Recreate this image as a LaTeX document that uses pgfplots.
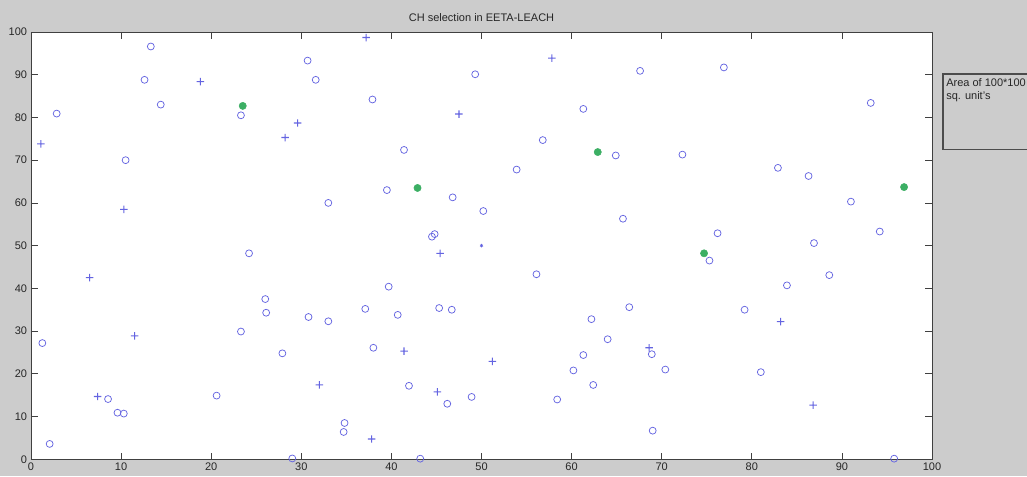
\documentclass[border=0pt]{standalone}
\usepackage{pgfplots}
\pgfplotsset{compat=1.18}
\usepackage{fontspec}
\setmainfont{Liberation Sans}
\definecolor{figbg}{RGB}{204,204,204}
\definecolor{nodeblue}{RGB}{100,100,225}
\definecolor{chgreen}{RGB}{60,175,100}
\pgfdeclareplotmark{fplus}{%
  \pgfpathrectangle{\pgfpoint{-\pgfplotmarksize}{-0.4pt}}{\pgfpoint{2\pgfplotmarksize}{0.8pt}}%
  \pgfpathrectangle{\pgfpoint{-0.4pt}{-\pgfplotmarksize}}{\pgfpoint{0.8pt}{2\pgfplotmarksize}}%
  \pgfusepathqfill}
\begin{document}
\begin{tikzpicture}
\fontsize{8.25}{9.9}\selectfont
\useasboundingbox (-23.25pt,-12.525pt) rectangle ++(770.25pt,357pt);
\fill[figbg] (-23.25pt,-12.525pt) rectangle ++(770.25pt,357pt);
\begin{axis}[
  at={(0,0)}, anchor=south west,
  scale only axis, width=675.75pt, height=320.5pt,
  xmin=0, xmax=100, ymin=0, ymax=100,
  xtick distance=10, ytick distance=10,
  tick align=inside, major tick length=5pt,
  axis background/.style={fill=white},
  axis line style={black!75, line width=0.6pt},
  every tick/.style={black!75, line width=0.6pt},
  /pgf/number format/assume math mode=true,
  tick label style={font=\fontsize{8.25}{9.9}\selectfont, text=black!85},
  title={CH selection in EETA-LEACH},
  title style={anchor=center, yshift=4.5pt, font=\fontsize{8.25}{9.9}\selectfont, text=black!85},
  clip=false,
]
% ordinary nodes (circles)
\addplot[only marks, mark=o, mark size=2.6pt, color=nodeblue, mark options={draw=nodeblue, line width=0.55pt}] coordinates {
(2.85,80.9) (13.3,96.6) (12.6,88.8) (14.4,83.0) (23.3,80.5) (30.7,93.3) (31.6,88.8)
(10.5,70.0) (33.0,60.0) (49.3,90.1) (37.9,84.2) (41.4,72.4) (67.6,90.9) (61.3,82.0)
(56.8,74.7) (64.9,71.1) (72.3,71.3) (39.5,63.0) (46.8,61.3) (53.9,67.8) (50.2,58.1)
(65.7,56.3) (44.5,52.1) (44.8,52.7) (76.9,91.7) (93.2,83.4) (82.9,68.2) (86.3,66.3)
(91.0,60.3) (94.2,53.3) (76.2,52.9) (86.9,50.6) (24.2,48.2) (26.0,37.5) (26.1,34.3)
(23.3,29.9) (30.8,33.3) (33.0,32.3) (1.26,27.2) (27.9,24.8) (8.55,14.1) (20.6,14.9)
(9.6,10.9) (10.3,10.7) (2.07,3.6) (29.0,0.2) (34.8,8.5) (34.7,6.4) (56.1,43.3)
(39.7,40.4) (37.1,35.2) (40.7,33.8) (45.3,35.4) (46.7,35.0) (38.0,26.1) (41.95,17.2)
(46.2,13.0) (48.9,14.6) (43.2,0.15) (66.4,35.6) (62.2,32.8) (64.0,28.1) (61.3,24.4)
(68.9,24.6) (60.2,20.8) (70.4,21.0) (62.4,17.4) (58.4,14.0) (69.0,6.7) (75.3,46.5)
(88.6,43.1) (83.9,40.7) (79.2,35.0) (81.0,20.4) (95.8,0.15)
};
% nodes marked with plus
\addplot[only marks, mark=fplus, mark size=2.8pt, color=nodeblue, mark options={fill=nodeblue, draw=none}] coordinates {
(1.1,73.8) (18.8,88.4) (29.6,78.7) (28.2,75.3) (10.3,58.5) (37.2,98.7) (47.5,80.8)
(57.8,93.9) (6.5,42.5) (11.5,28.9) (32.0,17.4) (7.4,14.7) (45.4,48.2) (41.4,25.3)
(51.2,22.9) (45.1,15.8) (37.8,4.75) (68.6,26.1) (83.2,32.2) (86.8,12.7)
};
% cluster heads
\addplot[only marks, mark=*, mark size=2.7pt, color=chgreen, mark options={fill=chgreen, draw=chgreen}] coordinates {
(23.5,82.7) (62.9,71.9) (42.9,63.5) (96.9,63.7) (74.7,48.2)
};
% base station
\addplot[only marks, mark=asterisk, mark size=1.3pt, color=nodeblue, mark options={draw=nodeblue, line width=0.5pt}] coordinates {(50,50)};
\end{axis}
\draw[black!70, line width=0.8pt] (684pt,232.7pt) rectangle (760pt,289pt);
\node[anchor=north west, inner sep=0pt, align=left, text=black!85, font=\fontsize{8.25}{9.75}\selectfont] at (686.25pt,285.5pt) {Area of 100*100\\sq. unit's};
\end{tikzpicture}
\end{document}
